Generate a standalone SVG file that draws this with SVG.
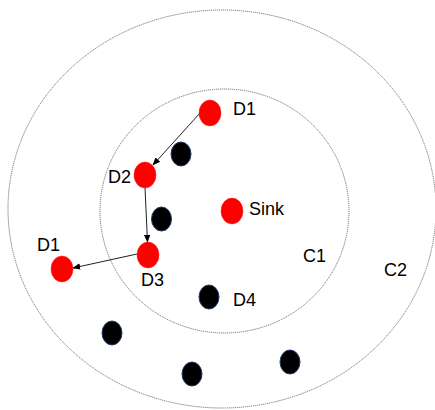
<svg xmlns="http://www.w3.org/2000/svg" width="435" height="410" viewBox="0 0 435 410">
<style>
.ring{fill:none;stroke:#666;stroke-width:0.9;stroke-dasharray:1.2 0.8}
.red{fill:#ff0000;stroke:#ff2020;stroke-width:0.5}
.blk{fill:#000;stroke:#1f3864;stroke-width:1}
.lbl{font-family:"Liberation Sans",Arial,sans-serif;font-size:18px;fill:#000}
.edge{stroke:#222;stroke-width:1;fill:none;marker-end:url(#ah)}
</style>
<defs>
<marker id="ah" viewBox="0 0 10 10" refX="9" refY="5" markerWidth="8" markerHeight="8" markerUnits="userSpaceOnUse" orient="auto">
<path d="M0,1 L10,5 L0,9 Z" fill="#000"/>
</marker>
</defs>
<rect width="435" height="410" fill="#fff"/>
<g id="C2"><ellipse class="ring" cx="222" cy="209" rx="214" ry="199"/><text class="lbl" x="384" y="276">C2</text></g>
<g id="C1"><ellipse class="ring" cx="224.5" cy="211" rx="124.5" ry="122"/><text class="lbl" x="303" y="262">C1</text></g>
<g id="connectors">
<line class="edge" x1="200" y1="113" x2="153" y2="165"/>
<line class="edge" x1="145" y1="188" x2="147.5" y2="242"/>
<line class="edge" x1="137" y1="254" x2="73" y2="268"/>
</g>
<g id="D1a"><ellipse class="red" cx="210" cy="113" rx="11" ry="13"/><text class="lbl" x="233" y="115">D1</text></g>
<g id="D2"><ellipse class="red" cx="145" cy="175" rx="11" ry="13"/><text class="lbl" x="108" y="183">D2</text></g>
<g id="Sink"><ellipse class="red" cx="232" cy="211" rx="11" ry="13"/><text class="lbl" x="249" y="215">Sink</text></g>
<g id="D3"><ellipse class="red" cx="148" cy="255" rx="11" ry="13"/><text class="lbl" x="141" y="286">D3</text></g>
<g id="D1b"><ellipse class="red" cx="62" cy="269" rx="11" ry="13"/><text class="lbl" x="37" y="251">D1</text></g>
<g id="D4"><ellipse class="blk" cx="209" cy="297" rx="10" ry="12"/><text class="lbl" x="233" y="306">D4</text></g>
<g id="n1"><ellipse class="blk" cx="181" cy="154" rx="10" ry="12"/></g>
<g id="n2"><ellipse class="blk" cx="161.5" cy="219" rx="10" ry="12"/></g>
<g id="n3"><ellipse class="blk" cx="112" cy="333" rx="10" ry="12"/></g>
<g id="n4"><ellipse class="blk" cx="192" cy="374" rx="10" ry="12"/></g>
<g id="n5"><ellipse class="blk" cx="290" cy="362" rx="10" ry="12"/></g>
</svg>
